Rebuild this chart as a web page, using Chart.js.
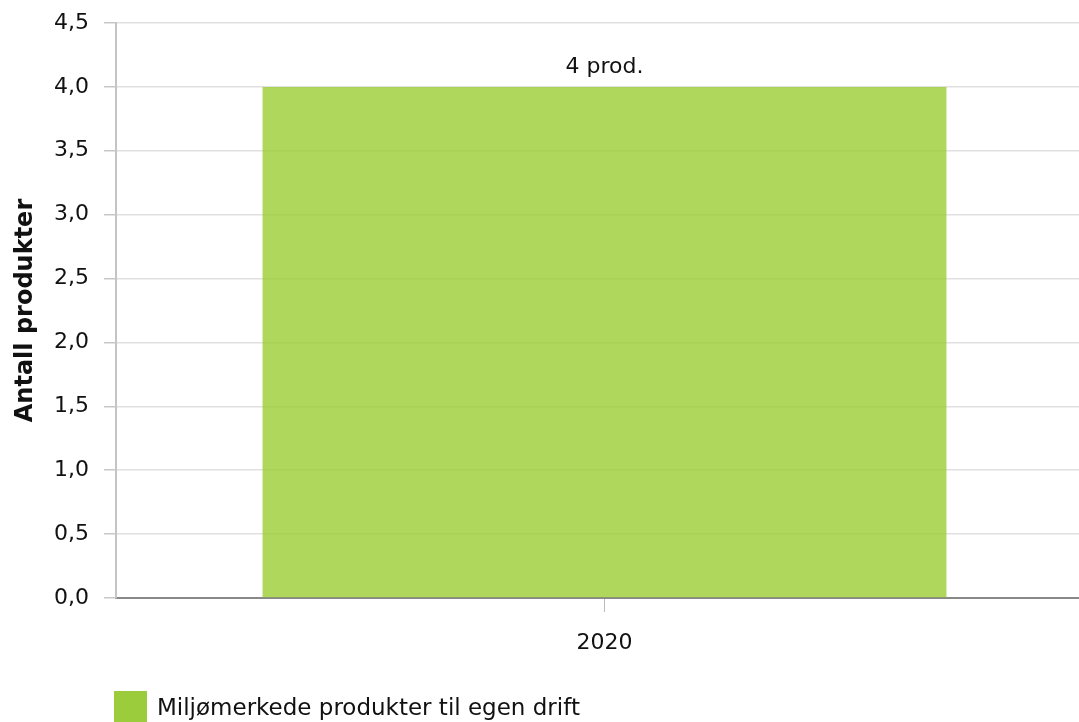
<!DOCTYPE html>
<html>
<head>
<meta charset="utf-8">
<script src="https://cdn.jsdelivr.net/npm/chart.js@4"></script>
<style>
  html, body { margin: 0; padding: 0; background: #fff; }
  #clip { width: 1079px; height: 722px; overflow: hidden; }
  #wrap { width: 1093px; height: 722px; }
</style>
</head>
<body>
<div id="clip"><div id="wrap"><canvas id="chart"></canvas></div></div>
<script>
const categories = ["2020"];
const seriesName = "Miljømerkede produkter til egen drift";
const seriesValues = [4];
const valueLabels = ["4 prod."];
const yTitle = "Antall produkter";

const fontFamily = "'DejaVu Sans', Verdana, sans-serif";

// draws "4 prod." above the bar and a legend at the bottom left
const extrasPlugin = {
  id: "extras",
  afterDatasetsDraw(chart) {
    const ctx = chart.ctx;
    const meta = chart.getDatasetMeta(0);
    ctx.save();
    ctx.font = "22px " + fontFamily;
    ctx.fillStyle = "#111";
    ctx.textAlign = "center";
    ctx.textBaseline = "middle";
    meta.data.forEach((bar, i) => {
      ctx.fillText(valueLabels[i], bar.x, bar.y - 20);
    });

    // legend
    const ds = chart.data.datasets[0];
    ctx.fillStyle = ds.legendColor;
    ctx.fillRect(114, 691, 33, 34);
    ctx.fillStyle = "#111";
    ctx.textAlign = "left";
    ctx.font = "23px " + fontFamily;
    ctx.fillText(ds.label, 157, 709);
    ctx.restore();
  }
};

new Chart(document.getElementById("chart"), {
  type: "bar",
  data: {
    labels: categories,
    datasets: [{
      label: seriesName,
      data: seriesValues,
      backgroundColor: "rgba(154, 205, 50, 0.8)",
      legendColor: "rgb(155, 204, 60)",
      borderWidth: 0,
      barPercentage: 0.7,
      categoryPercentage: 1
    }]
  },
  options: {
    responsive: true,
    maintainAspectRatio: false,
    animation: false,
    layout: { padding: { top: 23, right: 0, bottom: 64, left: 0 } },
    plugins: {
      legend: { display: false },
      tooltip: { enabled: false }
    },
    scales: {
      x: {
        afterFit: (s) => { s.height = 60; },
        grid: { display: true, offset: false, drawOnChartArea: false, drawTicks: true, tickLength: 14, tickColor: "#bbb" },
        border: { color: "#888", width: 2 },
        ticks: {
          color: "#111",
          font: { family: fontFamily, size: 22 },
          padding: 18
        }
      },
      y: {
        min: 0,
        max: 4.5,
        afterFit: (s) => { s.width = 116; s.paddingTop = 0; s.paddingBottom = 0; },
        ticks: {
          stepSize: 0.5,
          color: "#111",
          font: { family: fontFamily, size: 22 },
          padding: 15,
          callback: (v) => v.toFixed(1).replace(".", ",")
        },
        grid: { color: "#e0e0e0", lineWidth: 1.5, tickLength: 12, tickColor: "#c8c8c8" },
        border: { color: "#c4c4c4", width: 2 },
        title: {
          display: true,
          text: yTitle,
          color: "#111",
          font: { family: fontFamily, size: 24, weight: "bold" },
          padding: { top: 11, bottom: 0 }
        }
      }
    }
  },
  plugins: [extrasPlugin]
});
</script>
</body>
</html>
